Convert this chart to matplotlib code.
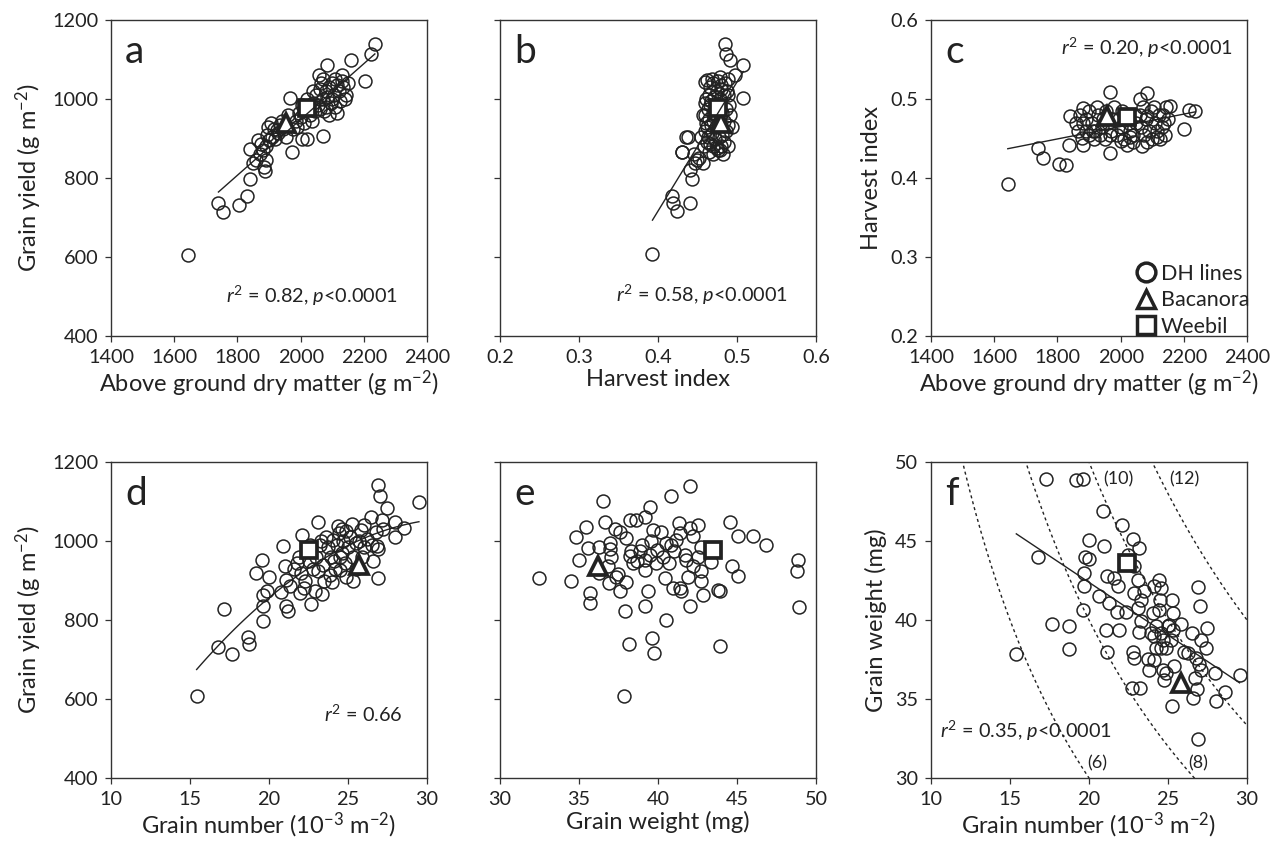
import matplotlib
matplotlib.use('Agg')
import matplotlib.pyplot as plt
from matplotlib.lines import Line2D
import numpy as np

plt.rcParams['font.family'] = 'Lato'
plt.rcParams['mathtext.fontset'] = 'custom'
plt.rcParams['mathtext.rm'] = 'Lato'
plt.rcParams['mathtext.it'] = 'Lato:italic'
plt.rcParams['mathtext.bf'] = 'Lato:bold'
plt.rcParams['text.color'] = '#222222'

# ---- panel a: grain yield vs above ground dry matter
agdm_a = [1645, 1740, 1755, 1806, 1829, 1840, 1850, 1884, 1887, 1889, 1840, 1866, 1870, 1860,
          1880, 1895, 1898, 1905, 1924, 1910, 1930, 1945, 1955, 1935, 1920, 1900, 1890, 1875,
          1972, 2003, 2019, 2072, 1966, 1960, 1985, 1975, 1990, 2000, 2010, 2025, 2035, 2045,
          2055, 2030, 2040, 2050, 2060, 2065, 2070, 2075, 2080, 2085, 2090, 2095, 2100, 2105,
          2110, 2114, 2115, 2120, 2125, 2130, 2135, 2140, 2145, 2150, 2058, 2085, 2160, 2204,
          2223, 2235, 2020, 2040, 2070, 2100, 2090, 2130, 2110, 1995, 2005, 1915, 1940, 2080, 2060]
gy_a = [605, 736, 713, 732, 754, 797, 837, 829, 818, 845, 873, 896, 860, 845,
        870, 910, 930, 940, 921, 905, 915, 925, 905, 935, 900, 895, 880, 885,
        865, 900, 899, 907, 1002, 960, 945, 925, 930, 955, 940, 975, 945, 970,
        985, 960, 990, 1010, 975, 1040, 1000, 970, 1020, 1005, 1030, 990, 1040, 1010,
        1050, 964, 1035, 1020, 995, 1045, 1031, 1000, 1010, 1040, 1061, 1086, 1100, 1046,
        1113, 1138, 1000, 1020, 1050, 1000, 960, 1060, 980, 965, 985, 925, 945, 980, 1025]

# ---- panel b: grain yield vs harvest index
hi_b = [0.393, 0.418, 0.419, 0.424, 0.440, 0.443, 0.441, 0.447, 0.457, 0.431, 0.436, 0.449,
        0.452, 0.445, 0.485, 0.486, 0.491, 0.507, 0.4975, 0.508, 0.460, 0.4616, 0.430, 0.4384,
        0.4763, 0.4933, 0.478,
        0.458, 0.462, 0.466, 0.47, 0.475, 0.48, 0.484, 0.463, 0.468, 0.472, 0.477, 0.481, 0.486,
        0.459, 0.461, 0.464, 0.467, 0.47, 0.474, 0.479, 0.484, 0.488, 0.46, 0.463, 0.466, 0.469,
        0.472, 0.476, 0.481, 0.486, 0.461, 0.464, 0.467, 0.471, 0.475, 0.479, 0.483, 0.487,
        0.466, 0.47, 0.476, 0.48, 0.485, 0.488, 0.478, 0.459, 0.462, 0.455, 0.457, 0.49, 0.491,
        0.489, 0.48, 0.473, 0.468, 0.47, 0.465, 0.482, 0.488]
gy_b = [607, 754, 736, 716, 736, 797, 820, 837, 837, 865, 905, 845,
        850, 860, 1138, 1113, 1100, 1086, 1061, 1002, 1044, 1048, 867, 905,
        871, 930, 871,
        880, 890, 885, 880, 875, 880, 890, 905, 915, 900, 905, 910, 920,
        920, 940, 950, 935, 945, 930, 940, 945, 935, 960, 975, 985, 965,
        960, 970, 965, 975, 1000, 1010, 995, 1005, 1020, 1000, 1010, 1020,
        1030, 1040, 1045, 1035, 1040, 1050, 1055, 990, 930, 905, 960, 985, 960,
        1010, 1025, 985, 1050, 860, 865, 860, 880]

# ---- panel c: harvest index vs above ground dry matter
agdm_c = [1643, 1738, 1754, 1806, 1826, 1838, 1967, 2020, 2069, 1965, 2085, 2157, 2218, 2236,
          2201, 1840, 1882, 1882, 1877,
          1860, 1870, 1890, 1900, 1910, 1920, 1900, 1890, 1930, 1940, 1950, 1960, 1970, 1980,
          1990, 2000, 2010, 2030, 2040, 2050, 2060, 2070, 2080, 2090, 2100, 2110, 2120, 2130,
          2140, 2150, 2060, 2040, 2000, 1925, 2095, 2125, 2075, 1955, 2015, 2105, 2135, 1880,
          1915, 2045, 1995, 2085, 1945, 2065, 2115, 1935, 2025, 1865, 2145, 1975, 2005,
          2083, 2136, 2115, 2030, 1967, 1914]
hi_c = [0.392, 0.438, 0.425, 0.418, 0.417, 0.442, 0.432, 0.442, 0.440, 0.509, 0.508, 0.491, 0.486, 0.485,
        0.462, 0.478, 0.488, 0.442, 0.451,
        0.47, 0.48, 0.475, 0.485, 0.47, 0.46, 0.455, 0.46, 0.48, 0.465, 0.45, 0.47, 0.46, 0.49,
        0.455, 0.465, 0.45, 0.46, 0.455, 0.47, 0.48, 0.49, 0.475, 0.46, 0.45, 0.47, 0.48, 0.465,
        0.455, 0.475, 0.50, 0.445, 0.447, 0.49, 0.485, 0.45, 0.455, 0.485, 0.48, 0.49, 0.48, 0.47,
        0.45, 0.48, 0.475, 0.445, 0.475, 0.465, 0.46, 0.455, 0.47, 0.46, 0.49, 0.475, 0.485,
        0.478, 0.469, 0.452, 0.452, 0.454, 0.46]

# ---- panel d: grain yield vs grain number
gn_d = [15.42, 16.79, 17.68, 17.17, 18.69, 18.73, 19.6, 19.64, 19.64, 19.85, 19.58, 19.18, 20.02,
        20.9, 21.0, 21.07, 21.2, 21.07, 21.33, 20.75, 21.96, 22.64, 22.9, 23.33, 23.08, 22.07,
        25.3, 26.88, 26.56, 26.88, 27.03, 27.45, 29.49, 26.43, 27.97, 28.57, 28.0, 27.13, 26.81,
        26.77, 25.23, 24.39, 25.8, 23.75, 24.07, 23.86, 24.5, 24.9,
        21.6, 21.8, 22.0, 22.3, 22.5, 22.8, 23.0, 23.2, 23.4, 23.6, 23.9, 24.1, 24.3, 24.4,
        24.6, 24.7, 24.8, 25.0, 25.1, 25.3, 25.5, 25.7, 26.0, 26.2, 26.5, 24.2, 23.5, 22.6,
        25.9, 24.9, 24.5, 23.1, 21.9, 26.9, 27.2, 26.0, 24.6, 23.3, 22.2, 25.5, 24.0]
gy_d = [607, 732, 715, 829, 757, 738, 798, 835, 864, 873, 953, 919, 910,
        988, 936, 835, 824, 902, 885, 870, 868, 841, 873, 866, 1048, 1014,
        900, 906, 949, 1141, 1113, 1084, 1100, 1062, 1047, 1033, 1009, 1054, 987,
        1024, 1044, 1039, 1029, 986, 1003, 915, 927, 910,
        930, 945, 920, 900, 950, 930, 960, 990, 940, 1010, 960, 950, 990, 1020,
        970, 1000, 945, 985, 1010, 960, 995, 1000, 985, 1005, 990, 930, 900, 990,
        960, 1025, 960, 925, 960, 980, 1030, 1040, 1030, 1000, 880, 930, 895]

# ---- panel e: grain yield vs grain weight
gw_e = [32.45, 34.51, 35.68, 35.68, 34.79, 35.46, 35.0, 35.57, 36.52, 36.62, 36.24, 36.94, 36.98,
        36.9, 36.27, 36.84, 37.26, 37.57, 37.36, 37.57, 37.95, 37.47, 37.89, 37.85, 38.14, 38.2,
        38.63, 39.16, 39.5, 38.0, 38.2, 38.4, 38.84, 39.16, 39.2, 39.58, 39.37, 39.2, 39.64, 39.75,
        39.9, 39.68, 40.2, 39.96, 40.53, 40.84, 42.05, 40.53, 40.42, 40.68, 40.95, 41.37, 41.48,
        41.31, 41.37, 42.0, 42.53, 41.69, 41.8, 42.2, 42.74, 42.74, 42.0, 42.85, 41.9, 42.2, 41.16,
        40.84, 42.74, 43.38, 43.8, 43.9, 43.9, 44.54, 45.06, 44.68, 45.06, 46.01, 46.86, 48.86,
        48.82, 48.9, 38.3, 39.0, 39.5, 40.3, 41.0, 38.7, 42.5, 37.0]
gy_e = [906, 900, 868, 843, 1009, 1035, 953, 982, 1102, 1047, 986, 995, 980,
        894, 919, 936, 1030, 1024, 910, 873, 895, 916, 824, 607, 738, 1054,
        1054, 1060, 1086, 1008, 961, 944, 974, 953, 926, 999, 873, 835, 754, 716,
        944, 1029, 1024, 978, 995, 1115, 1140, 801, 906, 944, 881, 881, 873,
        1046, 1020, 1033, 1041, 965, 953, 936, 923, 898, 835, 864, 910, 1012, 1003,
        991, 984, 948, 877, 873, 733, 1047, 1012, 937, 912, 1012, 989, 953,
        923, 832, 975, 990, 965, 960, 975, 950, 960, 960]

# ---- panel f: grain weight vs grain number
gn_f = [15.4, 16.79, 17.26, 19.16, 19.63, 17.68, 18.74, 18.74, 19.65, 19.69, 19.76, 20.01, 20.01,
        19.69, 20.9, 20.96, 22.08, 20.65, 21.11, 21.28, 21.77, 21.07, 21.17, 21.92, 21.6, 21.81,
        22.34, 22.78, 23.14, 22.87, 22.44, 22.76, 22.87, 22.72, 23.25, 23.08, 22.87, 23.29, 23.5,
        23.08, 23.29, 23.19, 23.71, 23.82, 24.14, 24.03, 24.14, 24.46, 24.56, 24.52, 24.46, 24.24,
        24.14, 23.93, 24.67, 24.56, 24.24, 24.88, 24.67, 24.77, 24.88, 25.26, 25.3, 25.09, 24.98,
        24.56, 25.3, 25.2, 25.83, 26.04, 26.25, 25.26, 25.41, 26.53, 26.89, 27.04, 27.48, 27.06,
        27.38, 26.78, 26.95, 26.72, 26.85, 26.61, 26.93, 27.95, 28.01, 28.58, 29.53, 27.1]
gw_f = [37.87, 43.99, 48.92, 48.84, 48.92, 39.75, 39.64, 38.16, 40.61, 42.13, 43.99, 43.86, 45.08,
        42.97, 46.92, 44.7, 46.03, 41.5, 42.76, 41.08, 40.49, 39.35, 37.95, 39.39, 42.66, 42.13,
        40.49, 45.13, 44.56, 43.44, 44.13, 37.97, 37.59, 35.7, 35.7, 42.55, 41.7, 41.29, 41.81,
        40.76, 39.92, 39.22, 37.53, 36.86, 37.49, 40.44, 42.13, 42.55, 42.03, 41.29, 40.65, 39.6,
        38.97, 39.18, 38.76, 38.23, 38.23, 38.23, 36.86, 36.22, 36.65, 41.29, 40.44, 39.7, 39.6,
        39.18, 39.39, 38.76, 39.75, 37.97, 37.91, 34.54, 37.07, 39.18, 42.07, 40.91, 39.49, 38.76,
        38.23, 37.59, 37.24, 36.33, 35.63, 35.06, 32.49, 36.65, 34.85, 35.44, 36.54, 36.86]

# parents: values per panel a..f
bacanora = [(1955, 940), (0.480, 938), (1958, 0.478), (25.7, 938), (36.2, 937), (25.8, 36.0)]
weebil = [(2020, 978), (0.4755, 978), (2020, 0.477), (22.5, 976), (43.5, 978), (22.4, 43.6)]

# iso-yield curves in panel f (t/ha)
iso_yield = [6, 8, 10, 12]

stats_txt = [r'$r^2$ = 0.82, $p$<0.0001', r'$r^2$ = 0.58, $p$<0.0001',
             r'$r^2$ = 0.20, $p$<0.0001', r'$r^2$ = 0.66', None, r'$r^2$ = 0.35, $p$<0.0001']

fig = plt.figure(figsize=(12.71, 8.48), dpi=100)
W, H = 1271, 848
lefts = [111, 500, 931]
tops = [20, 462]
axs = []
for r in range(2):
    for c in range(3):
        axs.append(fig.add_axes([lefts[c] / W, 1 - (tops[r] + 316) / H, 316 / W, 316 / H]))

ink = '#222222'
lab_fs = 17
for i, ax in enumerate(axs):
    for s in ax.spines.values():
        s.set_linewidth(1.0)
        s.set_color('#333333')
    ax.tick_params(direction='out', length=4.3, width=0.9, color='#333333',
                   labelsize=14.3, labelcolor=ink, pad=5)
    ax.text(0.045, 0.865, 'abcdef'[i], transform=ax.transAxes, fontsize=28,
            color=ink, va='baseline')

circ = dict(marker='o', ls='none', ms=9.3, mfc='none', mec=ink, mew=1.1, zorder=2)
spec = dict(ls='none', mfc='white', mec=ink, mew=2.7, zorder=3)

data = [(agdm_a, gy_a), (hi_b, gy_b), (agdm_c, hi_c), (gn_d, gy_d), (gw_e, gy_e), (gn_f, gw_f)]
for i, (ax, (x, y)) in enumerate(zip(axs, data)):
    x = np.array(x, float)
    y = np.array(y, float)
    ax.plot(x, y, **circ)
    ax.plot(*bacanora[i], marker='^', ms=12.5, **spec)
    ax.plot(*weebil[i], marker='s', ms=11.5, **spec)
    if i == 4:
        continue
    # regression lines
    if i == 0:
        m = x > 1700
    else:
        m = np.ones_like(x, bool)
    deg = 2 if i == 3 else 1
    coef = np.polyfit(x[m], y[m], deg)
    xs = np.linspace(x[m].min(), x[m].max(), 100)
    ax.plot(xs, np.polyval(coef, xs), color=ink, lw=1.0, zorder=4)

# iso-yield dashed curves in f
ax = axs[5]
gn_grid = np.linspace(10, 30, 300)
for yld in iso_yield:
    ax.plot(gn_grid, yld * 100 / gn_grid, color=ink, lw=1.0, ls=(0, (2.2, 2.2)), zorder=1)
ax.text(20.9, 48.9, '(10)', fontsize=13, va='center', color=ink)
ax.text(25.05, 48.9, '(12)', fontsize=13, va='center', color=ink)
ax.text(19.9, 30.95, '(6)', fontsize=13, va='center', color=ink)
ax.text(26.3, 30.95, '(8)', fontsize=13, va='center', color=ink)

# axes limits and ticks
for ax in (axs[0], axs[2]):
    ax.set_xlim(1400, 2400)
    ax.set_xticks(np.arange(1400, 2401, 200))
    ax.set_xlabel('Above ground dry matter (g m$^{-2}$)', fontsize=lab_fs, color=ink, labelpad=2)
axs[1].set_xlim(0.2, 0.6)
axs[1].set_xticks([0.2, 0.3, 0.4, 0.5, 0.6])
axs[1].set_xlabel('Harvest index', fontsize=lab_fs, color=ink, labelpad=2)
for ax in (axs[0], axs[1], axs[3], axs[4]):
    ax.set_ylim(400, 1200)
    ax.set_yticks(np.arange(400, 1201, 200))
for ax in (axs[1], axs[4]):
    ax.tick_params(labelleft=False)
axs[0].set_ylabel('Grain yield (g m$^{-2}$)', fontsize=lab_fs, color=ink, labelpad=6)
axs[3].set_ylabel('Grain yield (g m$^{-2}$)', fontsize=lab_fs, color=ink, labelpad=6)
axs[2].set_ylim(0.2, 0.6)
axs[2].set_yticks([0.2, 0.3, 0.4, 0.5, 0.6])
axs[2].set_ylabel('Harvest index', fontsize=lab_fs, color=ink, labelpad=6)
for ax in (axs[3], axs[5]):
    ax.set_xlim(10, 30)
    ax.set_xticks([10, 15, 20, 25, 30])
    ax.set_xlabel('Grain number (10$^{-3}$ m$^{-2}$)', fontsize=lab_fs, color=ink, labelpad=2)
axs[4].set_xlim(30, 50)
axs[4].set_xticks([30, 35, 40, 45, 50])
axs[4].set_xlabel('Grain weight (mg)', fontsize=lab_fs, color=ink, labelpad=2)
axs[5].set_ylim(30, 50)
axs[5].set_yticks([30, 35, 40, 45, 50])
axs[5].set_ylabel('Grain weight (mg)', fontsize=lab_fs, color=ink, labelpad=6)

# statistics text
txt_pos = [(0.908, 0.104, 'right'), (0.912, 0.108, 'right'), (0.955, 0.889, 'right'),
           (0.924, 0.179, 'right'), None, (0.029, 0.127, 'left')]
for ax, t, p in zip(axs, stats_txt, txt_pos):
    if t:
        ax.text(p[0], p[1], t, transform=ax.transAxes, ha=p[2], va='baseline',
                fontsize=14.3, color=ink)

# legend in c
handles = [Line2D([], [], marker='o', ls='none', ms=13.5, mfc='none', mec=ink, mew=2.5),
           Line2D([], [], marker='^', ls='none', ms=12.5, mfc='none', mec=ink, mew=2.5),
           Line2D([], [], marker='s', ls='none', ms=12.5, mfc='none', mec=ink, mew=2.5)]
axs[2].legend(handles, ['DH lines', 'Bacanora', 'Weebil'], loc='lower right',
              frameon=False, fontsize=15.5, handletextpad=0.15, labelspacing=0.3,
              borderaxespad=0.0, borderpad=0.05, handlelength=1.1,
              bbox_to_anchor=(1.01, -0.005))

fig.savefig('out.png', dpi=100)
